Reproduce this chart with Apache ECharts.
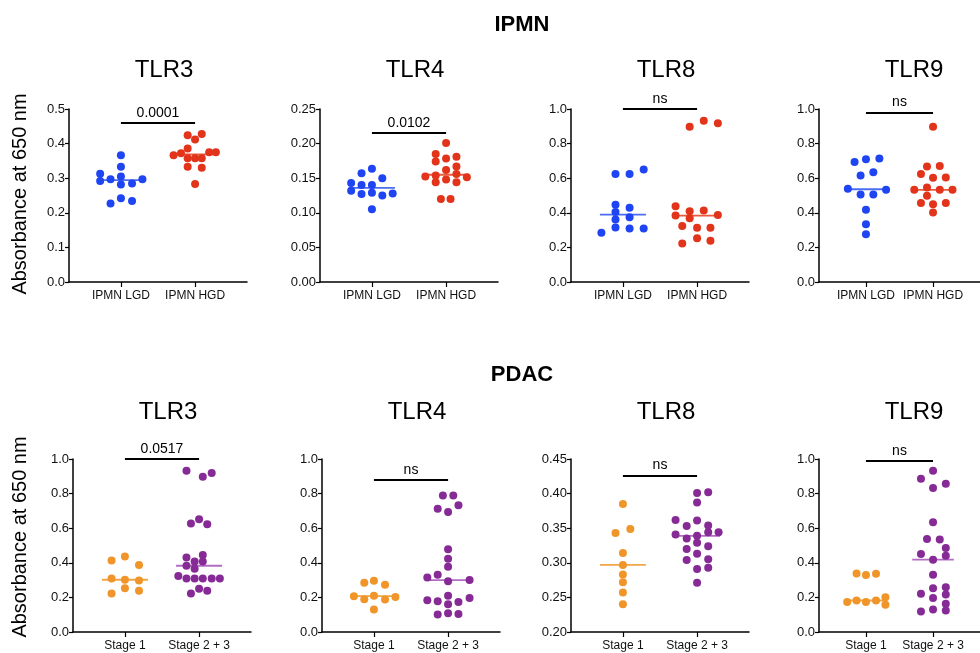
<!DOCTYPE html>
<html>
<head>
<meta charset="utf-8">
<script src="https://cdn.jsdelivr.net/npm/echarts@6/dist/echarts.min.js"></script>
<style>
  html, body { margin: 0; padding: 0; background: #fff; }
  #container { width: 980px; height: 653px; }
</style>
</head>
<body>
<div id="container"></div>
<script>
var dom = document.getElementById("container");
var myChart = echarts.init(dom);

// each point: [horizontal jitter from its group, absorbance]
var ipmnCats = ['IPMN LGD', 'IPMN HGD'];
var pdacCats = ['Stage 1', 'Stage 2 + 3'];

var ipmnTLR3_LGD = [[0, 0.366], [0, 0.333], [-0.28, 0.313], [0, 0.305], [-0.28, 0.292], [-0.14, 0.297], [0.29, 0.297], [0, 0.282], [0.15, 0.285], [0, 0.242], [-0.14, 0.227], [0.15, 0.234]];
var ipmnTLR3_HGD = [[-0.10, 0.424], [0.09, 0.428], [0, 0.412], [-0.10, 0.386], [-0.29, 0.366], [-0.19, 0.372], [0.19, 0.375], [0.28, 0.375], [-0.10, 0.358], [0, 0.358], [0.09, 0.358], [-0.10, 0.333], [0.09, 0.330], [0, 0.283]];

var ipmnTLR4_LGD = [[0, 0.1636], [-0.14, 0.157], [0.14, 0.150], [-0.28, 0.143], [-0.14, 0.140], [0, 0.140], [-0.28, 0.132], [-0.14, 0.127], [0, 0.129], [0.14, 0.125], [0.28, 0.128], [0, 0.105]];
var ipmnTLR4_HGD = [[0, 0.2008], [-0.14, 0.185], [0, 0.1786], [0.14, 0.181], [-0.14, 0.174], [0.14, 0.167], [0, 0.1617], [-0.28, 0.1525], [-0.14, 0.154], [0.14, 0.156], [0.28, 0.1515], [0, 0.148], [-0.14, 0.144], [0.14, 0.144], [-0.07, 0.120], [0.06, 0.120]];

var ipmnTLR8_LGD = [[0.28, 0.651], [-0.10, 0.624], [0.09, 0.625], [-0.10, 0.446], [-0.10, 0.405], [0.09, 0.429], [-0.10, 0.361], [0.09, 0.375], [-0.29, 0.284], [-0.10, 0.315], [0.09, 0.309], [0.28, 0.309]];
var ipmnTLR8_HGD = [[-0.10, 0.898], [0.09, 0.932], [0.28, 0.917], [-0.29, 0.438], [-0.29, 0.384], [-0.10, 0.409], [0.09, 0.413], [0.28, 0.388], [-0.10, 0.369], [-0.20, 0.324], [0, 0.313], [0.18, 0.313], [0, 0.253], [-0.20, 0.222], [0.18, 0.239]];

var ipmnTLR9_LGD = [[-0.17, 0.693], [0, 0.710], [0.20, 0.714], [-0.08, 0.616], [0.11, 0.635], [-0.27, 0.539], [0.30, 0.533], [-0.08, 0.506], [0.11, 0.506], [0, 0.417], [0, 0.334], [0, 0.276]];
var ipmnTLR9_HGD = [[0, 0.898], [-0.09, 0.668], [0.10, 0.670], [-0.18, 0.624], [0, 0.602], [0.19, 0.604], [-0.28, 0.533], [-0.09, 0.546], [0.10, 0.533], [0.29, 0.533], [-0.09, 0.498], [-0.18, 0.456], [0, 0.450], [0.19, 0.456], [0, 0.402]];

var pdacTLR3_S1 = [[-0.18, 0.414], [0, 0.437], [0.19, 0.387], [-0.18, 0.309], [0, 0.302], [0.19, 0.298], [-0.18, 0.222], [0, 0.253], [0.19, 0.238]];
var pdacTLR3_S23 = [[-0.17, 0.932], [0.05, 0.897], [0.17, 0.919], [-0.11, 0.627], [0, 0.652], [0.11, 0.623], [-0.17, 0.431], [0.05, 0.445], [-0.17, 0.383], [-0.06, 0.408], [0.05, 0.408], [-0.06, 0.366], [-0.28, 0.323], [-0.17, 0.309], [-0.06, 0.309], [0.05, 0.309], [0.17, 0.309], [0.28, 0.309], [-0.11, 0.222], [0, 0.250], [0.11, 0.238]];

var pdacTLR4_S1 = [[-0.13, 0.284], [0, 0.296], [0.15, 0.273], [-0.27, 0.207], [-0.13, 0.190], [0, 0.209], [0.15, 0.188], [0.29, 0.203], [0, 0.130]];
var pdacTLR4_S23 = [[-0.07, 0.789], [0.07, 0.789], [-0.14, 0.712], [0, 0.694], [0.14, 0.733], [0, 0.478], [0, 0.424], [0, 0.377], [-0.28, 0.315], [-0.14, 0.331], [0, 0.294], [0.29, 0.300], [0, 0.209], [-0.28, 0.184], [-0.14, 0.178], [0, 0.161], [0.14, 0.174], [0.29, 0.197], [-0.14, 0.101], [0, 0.108], [0.14, 0.104]];

var pdacTLR8_S1 = [[0, 0.385], [-0.10, 0.343], [0.10, 0.349], [0, 0.314], [0, 0.297], [0, 0.283], [0, 0.272], [0, 0.257], [0, 0.240]];
var pdacTLR8_S23 = [[0, 0.401], [0.15, 0.402], [0, 0.387], [-0.29, 0.362], [-0.14, 0.353], [0, 0.361], [0.15, 0.354], [-0.29, 0.341], [-0.14, 0.335], [0, 0.339], [0.15, 0.344], [0.29, 0.344], [0, 0.329], [-0.14, 0.320], [0.15, 0.324], [0, 0.313], [-0.14, 0.304], [0.15, 0.305], [0, 0.291], [0.15, 0.293], [0, 0.271]];

var pdacTLR9_S1 = [[-0.14, 0.338], [0, 0.329], [0.15, 0.337], [-0.28, 0.174], [-0.14, 0.182], [0, 0.174], [0.15, 0.182], [0.29, 0.201], [0.29, 0.157]];
var pdacTLR9_S23 = [[0, 0.932], [-0.18, 0.886], [0, 0.832], [0.19, 0.857], [0, 0.634], [-0.09, 0.538], [0.10, 0.534], [0.19, 0.485], [-0.18, 0.451], [0, 0.418], [0.19, 0.441], [0, 0.331], [0, 0.253], [0.19, 0.259], [-0.18, 0.221], [0, 0.197], [0.19, 0.217], [0.19, 0.164], [-0.18, 0.118], [0, 0.130], [0.19, 0.124]];

// y axis ranges
var yMin = [0, 0, 0, 0, 0, 0, 0.2, 0];
var yMax = [0.5, 0.25, 1.0, 1.0, 1.0, 1.0, 0.45, 1.0];
var yStep = [0.1, 0.05, 0.2, 0.2, 0.2, 0.2, 0.05, 0.2];
var yDecimals = [1, 2, 1, 1, 1, 1, 2, 1];

// significance labels and bar heights
var sigLabels = ['0.0001', '0.0102', 'ns', 'ns', '0.0517', 'ns', 'ns', 'ns'];
var sigLevels = [0.459, 0.215, 1.0, 0.98, 1.0, 0.88, 0.426, 0.99];

var panelTitles = ['TLR3', 'TLR4', 'TLR8', 'TLR9', 'TLR3', 'TLR4', 'TLR8', 'TLR9'];

var groupsData = [
    [ipmnTLR3_LGD, ipmnTLR3_HGD], [ipmnTLR4_LGD, ipmnTLR4_HGD],
    [ipmnTLR8_LGD, ipmnTLR8_HGD], [ipmnTLR9_LGD, ipmnTLR9_HGD],
    [pdacTLR3_S1, pdacTLR3_S23], [pdacTLR4_S1, pdacTLR4_S23],
    [pdacTLR8_S1, pdacTLR8_S23], [pdacTLR9_S1, pdacTLR9_S23]
];

var FONT = '"Liberation Sans", Arial, Helvetica, sans-serif';
var dotColors = [['#1f45f2', '#e2341a'], ['#f0952a', '#862a96']];
var medColors = [['#4a6cf2', '#ea5a3e'], ['#f3a445', '#b26cc2']];
var gridLefts = [69, 320, 571, 819, 73, 322, 571, 819];
var gridTops = [109, 459];
var PLOT_W = 178, PLOT_H = 173;
var X_MIN = 0.3, X_MAX = 2.7;

function median(arr) {
    var v = arr.map(function (p) { return p[1]; }).sort(function (a, b) { return a - b; });
    var m = Math.floor(v.length / 2);
    return v.length % 2 ? v[m] : (v[m - 1] + v[m]) / 2;
}

var grids = [], xAxes = [], yAxes = [], series = [];
var titles = [
    { text: 'IPMN', left: 517, top: 9, textAlign: 'center', textStyle: { fontFamily: FONT, fontSize: 22, fontWeight: 'bold', color: '#000' } },
    { text: 'PDAC', left: 517, top: 359, textAlign: 'center', textStyle: { fontFamily: FONT, fontSize: 22, fontWeight: 'bold', color: '#000' } }
];

for (var i = 0; i < 8; i++) {
    var row = i < 4 ? 0 : 1;
    var cats = row === 0 ? ipmnCats : pdacCats;
    grids.push({ left: gridLefts[i], top: gridTops[row], width: PLOT_W, height: PLOT_H });
    titles.push({
        text: panelTitles[i], left: gridLefts[i] + 90, top: row === 0 ? 53 : 395, textAlign: 'center',
        textStyle: { fontFamily: FONT, fontSize: 24, fontWeight: 'normal', color: '#000' }
    });
    (function (cats) {
        xAxes.push({
            gridIndex: i, type: 'value', min: X_MIN, max: X_MAX,
            axisLine: { show: true, onZero: false, lineStyle: { color: '#000', width: 1.5 } },
            axisTick: { show: true, customValues: [1, 2], length: 5, lineStyle: { color: '#000', width: 1.2 } },
            axisLabel: {
                customValues: [1, 2], margin: 8, fontFamily: FONT, fontSize: 12, color: '#111',
                formatter: function (v) { return cats[Math.round(v) - 1]; }
            },
            splitLine: { show: false }
        });
    })(cats);
    (function (dec) {
        yAxes.push({
            gridIndex: i, type: 'value', min: yMin[i], max: yMax[i], interval: yStep[i],
            axisLine: { show: true, lineStyle: { color: '#000', width: 1.5 } },
            axisTick: { show: true, length: 4, lineStyle: { color: '#000', width: 1.2 } },
            axisLabel: {
                margin: 4, fontFamily: FONT, fontSize: 13, color: '#111',
                formatter: function (v) { return v.toFixed(dec); }
            },
            splitLine: { show: false }
        });
    })(yDecimals[i]);

    for (var g = 0; g < 2; g++) {
        var center = g + 1;
        var pts = groupsData[i][g];
        var med = median(pts);
        series.push({
            type: 'line', xAxisIndex: i, yAxisIndex: i, symbol: 'none', silent: true, z: 1,
            lineStyle: { color: medColors[row][g], width: 1.8 },
            data: [[center - 0.31, med], [center + 0.31, med]]
        });
        var s = {
            type: 'scatter', xAxisIndex: i, yAxisIndex: i, symbolSize: 8, z: 3,
            itemStyle: { color: dotColors[row][g], opacity: 1 },
            data: pts.map(function (p) { return [center + p[0], p[1]]; })
        };
        if (g === 0) {
            s.markLine = {
                silent: true, symbol: 'none', animation: false,
                lineStyle: { color: '#000', width: 2, type: 'solid' },
                label: {
                    show: true, position: 'middle', distance: 3, formatter: sigLabels[i],
                    fontFamily: FONT, fontSize: 14, color: '#000'
                },
                data: [[{ coord: [1, sigLevels[i]] }, { coord: [2, sigLevels[i]] }]]
            };
        }
        series.push(s);
    }
}

var option = {
    animation: false,
    backgroundColor: '#fff',
    title: titles,
    grid: grids,
    xAxis: xAxes,
    yAxis: yAxes,
    series: series,
    graphic: [
        { type: 'text', x: 20, y: 194, rotation: Math.PI / 2,
          style: { text: 'Absorbance at 650 nm', fontFamily: FONT, fontSize: 20, fill: '#000', textAlign: 'center', textVerticalAlign: 'middle' } },
        { type: 'text', x: 20, y: 537, rotation: Math.PI / 2,
          style: { text: 'Absorbance at 650 nm', fontFamily: FONT, fontSize: 20, fill: '#000', textAlign: 'center', textVerticalAlign: 'middle' } }
    ]
};

if (option && typeof option === "object") {
    myChart.setOption(option, true);
}
</script>
</body>
</html>
